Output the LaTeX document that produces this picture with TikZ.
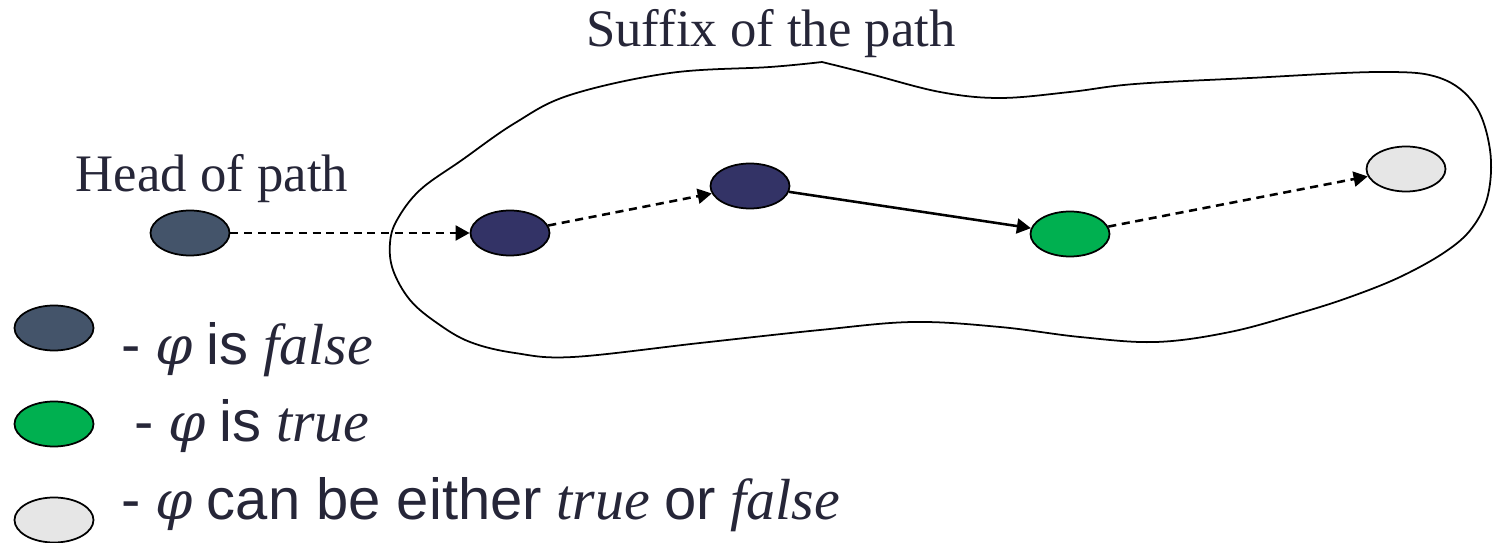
\documentclass[tikz,border=0pt]{standalone}
\usepackage{fontspec}
\setmainfont{Liberation Serif}
\setsansfont{Liberation Sans}
\newfontfamily\phifont{DejaVu Serif}[Scale=0.92]
\usetikzlibrary{arrows.meta, shapes.geometric}
\definecolor{slate}{HTML}{44546A}
\definecolor{navy}{HTML}{333366}
\definecolor{tgreen}{HTML}{00B050}
\definecolor{ltgray}{HTML}{E6E6E6}
\definecolor{ink}{HTML}{262638}
\newcommand{\phisym}{{\phifont\itshape φ}}

\begin{document}
\begin{tikzpicture}[
  x=0.02cm, y=-0.02cm,
  every node/.style={text=ink, font=\fontsize{30}{36}\selectfont},
  state/.style={ellipse, draw=black, line width=1pt, minimum width=1.58cm, minimum height=0.9cm, inner sep=0pt},
  legendtext/.style={anchor=base west, font=\fontsize{33}{40}\selectfont},
  link/.style={line width=1.45pt, -{Triangle[length=8pt, width=8.5pt]}},
  dashlink/.style={link, dash pattern=on 4.6pt off 3.2pt},
]

% Background
\useasboundingbox (0,0) rectangle (1494,543);

% Suffix region
\draw[line width=1pt] plot[smooth, tension=0.6] coordinates {
  (822,62) (870,74) (940,92) (1000,98) (1070,92) (1135,84) (1250,78)
  (1380,72) (1440,78) (1475,105) (1490,150) (1488,195) (1472,228)
  (1445,252) (1400,277) (1350,297) (1300,313) (1230,332) (1156,342)
  (1080,337) (1000,327) (913,322) (820,330) (700,343) (573,357)
  (515,353) (470,342) (437,323) (410,300) (393,270) (390,243)
  (397,220) (420,190) (462,160) (515,123) (570,95) (670,73)
  (770,67) (822,62)};
\node[anchor=base] (suffix) at (771,47) {Suffix of the path};

% Path states
\node[anchor=base] (headlbl) at (212,192) {Head of path};
\node[state, fill=slate] (head) at (190,233) {};
\node[state, fill=navy] (s1) at (510,233) {};
\node[state, fill=navy] (s2) at (750,186) {};
\node[state, fill=tgreen] (s3) at (1070,234) {};
\node[state, fill=ltgray] (s4) at (1406,169) {};

% Transitions
\draw[dashlink] (head) -- (s1);
\draw[dashlink] (s1) -- (s2);
\draw[link] (s2) -- (s3);
\draw[dashlink] (s3) -- (s4);

% Legend
\node[state, fill=slate] (kfalse) at (54,328) {};
\node[state, fill=tgreen] (ktrue) at (54,424) {};
\node[state, fill=ltgray] (kany) at (54,520) {};
\node[legendtext] (tfalse) at (115,365) {{\sffamily -} \phisym{} {\sffamily is} \textit{false}};
\node[legendtext] (ttrue) at (128,442) {{\sffamily -} \phisym{} {\sffamily is} \textit{true}};
\node[legendtext] (tany) at (115,520) {{\sffamily -} \phisym{} {\sffamily can be either} \textit{true} {\sffamily or} \textit{false}};

\end{tikzpicture}
\end{document}
